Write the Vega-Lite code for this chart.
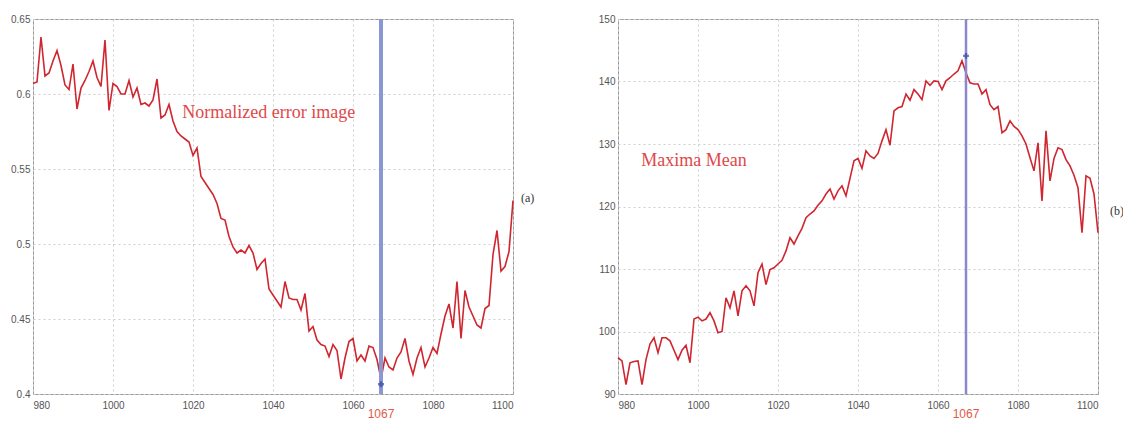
{
  "$schema": "https://vega.github.io/schema/vega-lite/v6.json",
  "background": "white",
  "padding": {"left": 10, "top": 13, "right": 0, "bottom": 0},
  "spacing": 62,
  "config": {
    "view": {"stroke": "#9a9a9a", "strokeWidth": 1},
    "axis": {
      "labelFont": "Liberation Sans", "labelFontSize": 10, "labelColor": "#555",
      "domain": false, "ticks": false, "labelPadding": 3,
      "grid": true, "gridColor": "#cfcfcf", "gridDash": [2, 3], "gridWidth": 1,
      "title": null
    }
  },
  "datasets": {
    "err": [
      {"frame":980,"value":0.607},{"frame":981,"value":0.608},{"frame":982,"value":0.638},{"frame":983,"value":0.612},{"frame":984,"value":0.614},
      {"frame":985,"value":0.622},{"frame":986,"value":0.629},{"frame":987,"value":0.619},{"frame":988,"value":0.606},{"frame":989,"value":0.603},
      {"frame":990,"value":0.620},{"frame":991,"value":0.590},{"frame":992,"value":0.604},{"frame":993,"value":0.609},{"frame":994,"value":0.615},
      {"frame":995,"value":0.622},{"frame":996,"value":0.611},{"frame":997,"value":0.605},{"frame":998,"value":0.636},{"frame":999,"value":0.589},
      {"frame":1000,"value":0.607},{"frame":1001,"value":0.605},{"frame":1002,"value":0.600},{"frame":1003,"value":0.600},{"frame":1004,"value":0.609},
      {"frame":1005,"value":0.598},{"frame":1006,"value":0.604},{"frame":1007,"value":0.593},{"frame":1008,"value":0.594},{"frame":1009,"value":0.592},
      {"frame":1010,"value":0.596},{"frame":1011,"value":0.610},{"frame":1012,"value":0.584},{"frame":1013,"value":0.586},{"frame":1014,"value":0.593},
      {"frame":1015,"value":0.582},{"frame":1016,"value":0.575},{"frame":1017,"value":0.572},{"frame":1018,"value":0.570},{"frame":1019,"value":0.568},
      {"frame":1020,"value":0.559},{"frame":1021,"value":0.564},{"frame":1022,"value":0.545},{"frame":1023,"value":0.541},{"frame":1024,"value":0.537},
      {"frame":1025,"value":0.533},{"frame":1026,"value":0.527},{"frame":1027,"value":0.517},{"frame":1028,"value":0.516},{"frame":1029,"value":0.505},
      {"frame":1030,"value":0.498},{"frame":1031,"value":0.494},{"frame":1032,"value":0.496},{"frame":1033,"value":0.494},{"frame":1034,"value":0.499},
      {"frame":1035,"value":0.494},{"frame":1036,"value":0.483},{"frame":1037,"value":0.487},{"frame":1038,"value":0.490},{"frame":1039,"value":0.470},
      {"frame":1040,"value":0.466},{"frame":1041,"value":0.462},{"frame":1042,"value":0.458},{"frame":1043,"value":0.475},{"frame":1044,"value":0.464},
      {"frame":1045,"value":0.463},{"frame":1046,"value":0.463},{"frame":1047,"value":0.456},{"frame":1048,"value":0.467},{"frame":1049,"value":0.442},
      {"frame":1050,"value":0.445},{"frame":1051,"value":0.436},{"frame":1052,"value":0.433},{"frame":1053,"value":0.432},{"frame":1054,"value":0.425},
      {"frame":1055,"value":0.433},{"frame":1056,"value":0.429},{"frame":1057,"value":0.410},{"frame":1058,"value":0.424},{"frame":1059,"value":0.435},
      {"frame":1060,"value":0.437},{"frame":1061,"value":0.422},{"frame":1062,"value":0.426},{"frame":1063,"value":0.422},{"frame":1064,"value":0.432},
      {"frame":1065,"value":0.431},{"frame":1066,"value":0.423},{"frame":1067,"value":0.410},{"frame":1068,"value":0.424},{"frame":1069,"value":0.418},
      {"frame":1070,"value":0.416},{"frame":1071,"value":0.424},{"frame":1072,"value":0.428},{"frame":1073,"value":0.437},{"frame":1074,"value":0.422},
      {"frame":1075,"value":0.413},{"frame":1076,"value":0.424},{"frame":1077,"value":0.431},{"frame":1078,"value":0.418},{"frame":1079,"value":0.424},
      {"frame":1080,"value":0.431},{"frame":1081,"value":0.427},{"frame":1082,"value":0.440},{"frame":1083,"value":0.452},{"frame":1084,"value":0.460},
      {"frame":1085,"value":0.444},{"frame":1086,"value":0.475},{"frame":1087,"value":0.437},{"frame":1088,"value":0.469},{"frame":1089,"value":0.458},
      {"frame":1090,"value":0.452},{"frame":1091,"value":0.446},{"frame":1092,"value":0.444},{"frame":1093,"value":0.457},{"frame":1094,"value":0.459},
      {"frame":1095,"value":0.493},{"frame":1096,"value":0.509},{"frame":1097,"value":0.482},{"frame":1098,"value":0.485},{"frame":1099,"value":0.495},
      {"frame":1100,"value":0.529}
    ],
    "mean": [
      {"frame":980,"value":95.8},{"frame":981,"value":95.3},{"frame":982,"value":91.5},{"frame":983,"value":95.0},{"frame":984,"value":95.2},
      {"frame":985,"value":95.3},{"frame":986,"value":91.5},{"frame":987,"value":95.5},{"frame":988,"value":98.0},{"frame":989,"value":99.0},
      {"frame":990,"value":96.6},{"frame":991,"value":99.0},{"frame":992,"value":99.0},{"frame":993,"value":98.5},{"frame":994,"value":97.0},
      {"frame":995,"value":95.5},{"frame":996,"value":97.0},{"frame":997,"value":97.8},{"frame":998,"value":95.0},{"frame":999,"value":102.0},
      {"frame":1000,"value":102.3},{"frame":1001,"value":101.7},{"frame":1002,"value":102.0},{"frame":1003,"value":103.0},{"frame":1004,"value":101.7},
      {"frame":1005,"value":99.8},{"frame":1006,"value":100.0},{"frame":1007,"value":105.4},{"frame":1008,"value":103.8},{"frame":1009,"value":106.5},
      {"frame":1010,"value":102.5},{"frame":1011,"value":106.5},{"frame":1012,"value":107.3},{"frame":1013,"value":106.5},{"frame":1014,"value":104.1},
      {"frame":1015,"value":109.4},{"frame":1016,"value":110.8},{"frame":1017,"value":107.5},{"frame":1018,"value":109.9},{"frame":1019,"value":110.2},
      {"frame":1020,"value":110.8},{"frame":1021,"value":111.4},{"frame":1022,"value":112.9},{"frame":1023,"value":115.0},{"frame":1024,"value":114.0},
      {"frame":1025,"value":115.3},{"frame":1026,"value":116.5},{"frame":1027,"value":118.2},{"frame":1028,"value":118.8},{"frame":1029,"value":119.3},
      {"frame":1030,"value":120.2},{"frame":1031,"value":120.9},{"frame":1032,"value":122.0},{"frame":1033,"value":122.8},{"frame":1034,"value":121.2},
      {"frame":1035,"value":122.5},{"frame":1036,"value":123.3},{"frame":1037,"value":121.7},{"frame":1038,"value":124.5},{"frame":1039,"value":127.3},
      {"frame":1040,"value":127.7},{"frame":1041,"value":126.1},{"frame":1042,"value":128.9},{"frame":1043,"value":128.1},{"frame":1044,"value":127.7},
      {"frame":1045,"value":128.5},{"frame":1046,"value":130.5},{"frame":1047,"value":132.3},{"frame":1048,"value":129.8},{"frame":1049,"value":135.3},
      {"frame":1050,"value":135.8},{"frame":1051,"value":136.0},{"frame":1052,"value":138.0},{"frame":1053,"value":137.0},{"frame":1054,"value":138.7},
      {"frame":1055,"value":138.0},{"frame":1056,"value":137.1},{"frame":1057,"value":140.1},{"frame":1058,"value":139.4},{"frame":1059,"value":140.1},
      {"frame":1060,"value":140.0},{"frame":1061,"value":138.7},{"frame":1062,"value":140.1},{"frame":1063,"value":140.6},{"frame":1064,"value":141.2},
      {"frame":1065,"value":141.7},{"frame":1066,"value":143.3},{"frame":1067,"value":141.4},{"frame":1068,"value":139.8},{"frame":1069,"value":139.6},
      {"frame":1070,"value":139.6},{"frame":1071,"value":138.0},{"frame":1072,"value":138.7},{"frame":1073,"value":136.3},{"frame":1074,"value":135.5},
      {"frame":1075,"value":136.0},{"frame":1076,"value":131.8},{"frame":1077,"value":132.3},{"frame":1078,"value":133.7},{"frame":1079,"value":132.8},
      {"frame":1080,"value":132.3},{"frame":1081,"value":131.3},{"frame":1082,"value":130.0},{"frame":1083,"value":127.8},{"frame":1084,"value":125.7},
      {"frame":1085,"value":130.2},{"frame":1086,"value":120.9},{"frame":1087,"value":132.1},{"frame":1088,"value":124.1},{"frame":1089,"value":127.7},
      {"frame":1090,"value":129.4},{"frame":1091,"value":129.1},{"frame":1092,"value":127.5},{"frame":1093,"value":126.5},{"frame":1094,"value":125.0},
      {"frame":1095,"value":123.0},{"frame":1096,"value":115.8},{"frame":1097,"value":124.9},{"frame":1098,"value":124.5},{"frame":1099,"value":122.0},
      {"frame":1100,"value":115.8}
    ]
  },
  "hconcat": [
    {
      "width": 480, "height": 375,
      "layer": [
        {
          "data": {"name": "err"},
          "mark": {"type": "line", "color": "#cf2630", "strokeWidth": 1.6},
          "encoding": {
            "x": {"field": "frame", "type": "quantitative", "scale": {"domain": [980, 1100], "nice": false, "zero": false},
                  "axis": {"values": [980, 1000, 1020, 1040, 1060, 1080, 1100], "format": "d", "labelPadding": 6}},
            "y": {"field": "value", "type": "quantitative", "scale": {"domain": [0.4, 0.65], "nice": false, "zero": false},
                  "axis": {"values": [0.4, 0.45, 0.5, 0.55, 0.6, 0.65], "format": "~g"}}
          }
        },
        {
          "data": {"values": [{"frame": 1067}]},
          "mark": {"type": "rule", "color": "#8a98d2", "strokeWidth": 4},
          "encoding": {"x": {"field": "frame", "type": "quantitative"}}
        },
        {
          "data": {"values": [{"frame": 1067, "value": 0.4065}]},
          "mark": {"type": "point", "shape": "cross", "filled": true, "color": "#34449e", "size": 35},
          "encoding": {"x": {"field": "frame", "type": "quantitative"}, "y": {"field": "value", "type": "quantitative"}}
        },
        {
          "data": {"values": [{"frame": 1067, "value": 0.3867, "label": "1067"}]},
          "mark": {"type": "text", "font": "Liberation Sans", "fontSize": 12, "color": "#e05a4a", "align": "center", "baseline": "middle"},
          "encoding": {"x": {"field": "frame", "type": "quantitative"}, "y": {"field": "value", "type": "quantitative"}, "text": {"field": "label"}}
        },
        {
          "data": {"values": [{"frame": 1017.3, "value": 0.5873, "label": "Normalized error image"}]},
          "mark": {"type": "text", "font": "Liberation Serif", "fontSize": 18, "color": "#e04848", "align": "left", "baseline": "middle"},
          "encoding": {"x": {"field": "frame", "type": "quantitative"}, "y": {"field": "value", "type": "quantitative"}, "text": {"field": "label"}}
        },
        {
          "data": {"values": [{"frame": 1102, "value": 0.5307, "label": "(a)"}]},
          "mark": {"type": "text", "font": "Liberation Serif", "fontSize": 12, "color": "#333", "align": "left", "baseline": "middle"},
          "encoding": {"x": {"field": "frame", "type": "quantitative"}, "y": {"field": "value", "type": "quantitative"}, "text": {"field": "label"}}
        }
      ]
    },
    {
      "width": 480, "height": 375,
      "layer": [
        {
          "data": {"name": "mean"},
          "mark": {"type": "line", "color": "#cf2630", "strokeWidth": 1.6},
          "encoding": {
            "x": {"field": "frame", "type": "quantitative", "scale": {"domain": [980, 1100], "nice": false, "zero": false},
                  "axis": {"values": [980, 1000, 1020, 1040, 1060, 1080, 1100], "format": "d", "labelPadding": 6}},
            "y": {"field": "value", "type": "quantitative", "scale": {"domain": [90, 150], "nice": false, "zero": false},
                  "axis": {"values": [90, 100, 110, 120, 130, 140, 150], "format": "d"}}
          }
        },
        {
          "data": {"values": [{"frame": 1067}]},
          "mark": {"type": "rule", "color": "#8c88cc", "strokeWidth": 2.5},
          "encoding": {"x": {"field": "frame", "type": "quantitative"}}
        },
        {
          "data": {"values": [{"frame": 1067, "value": 144.1}]},
          "mark": {"type": "point", "shape": "cross", "filled": true, "color": "#34449e", "size": 35},
          "encoding": {"x": {"field": "frame", "type": "quantitative"}, "y": {"field": "value", "type": "quantitative"}}
        },
        {
          "data": {"values": [{"frame": 1067, "value": 86.8, "label": "1067"}]},
          "mark": {"type": "text", "font": "Liberation Sans", "fontSize": 12, "color": "#e05a4a", "align": "center", "baseline": "middle"},
          "encoding": {"x": {"field": "frame", "type": "quantitative"}, "y": {"field": "value", "type": "quantitative"}, "text": {"field": "label"}}
        },
        {
          "data": {"values": [{"frame": 985.8, "value": 127.3, "label": "Maxima  Mean"}]},
          "mark": {"type": "text", "font": "Liberation Serif", "fontSize": 18, "color": "#e04848", "align": "left", "baseline": "middle"},
          "encoding": {"x": {"field": "frame", "type": "quantitative"}, "y": {"field": "value", "type": "quantitative"}, "text": {"field": "label"}}
        },
        {
          "data": {"values": [{"frame": 1103, "value": 119.3, "label": "(b)"}]},
          "mark": {"type": "text", "font": "Liberation Serif", "fontSize": 12, "color": "#333", "align": "left", "baseline": "middle"},
          "encoding": {"x": {"field": "frame", "type": "quantitative"}, "y": {"field": "value", "type": "quantitative"}, "text": {"field": "label"}}
        }
      ]
    }
  ]
}
